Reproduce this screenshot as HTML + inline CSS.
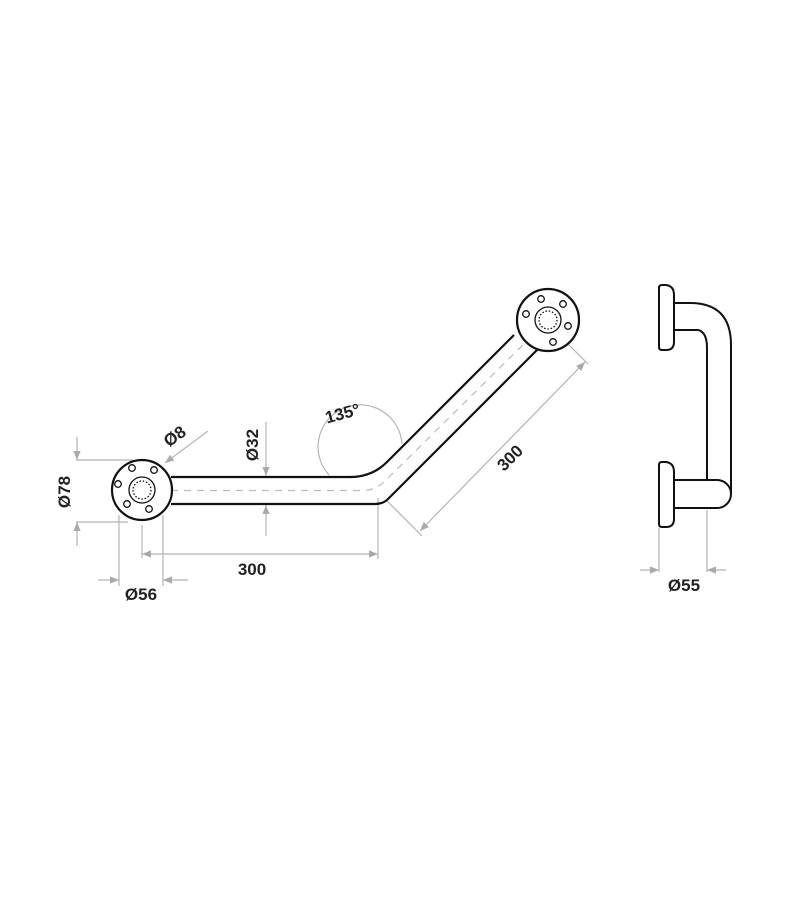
<!DOCTYPE html>
<html><head><meta charset="utf-8"><style>
html,body{margin:0;padding:0;background:#fff}
svg{display:block}
text{font-family:"Liberation Sans Narrow","Liberation Sans",sans-serif;font-weight:bold;font-size:17px;fill:#222}
</style></head><body>
<svg width="800" height="912" viewBox="0 0 800 912" xmlns="http://www.w3.org/2000/svg">
<defs>
<marker id="a" viewBox="0 0 10 10" refX="10" refY="5" markerWidth="9" markerHeight="9" orient="auto-start-reverse" markerUnits="userSpaceOnUse"><path d="M0,1 L10,5 L0,9 z" fill="#aaa"/></marker>
</defs>
<g stroke="#b4b4b4" stroke-width="1.2" fill="none">
<line x1="76" y1="460" x2="133" y2="460"/>
<line x1="76" y1="522" x2="128" y2="522"/>
<line x1="77" y1="437" x2="77" y2="460" marker-end="url(#a)"/>
<line x1="77" y1="546" x2="77" y2="522" marker-end="url(#a)"/>
<line x1="119" y1="515" x2="119" y2="586"/>
<line x1="163" y1="515" x2="163" y2="586"/>
<line x1="98" y1="580" x2="119" y2="580" marker-end="url(#a)"/>
<line x1="188" y1="580" x2="163" y2="580" marker-end="url(#a)"/>
<line x1="142" y1="525" x2="142" y2="558"/>
<line x1="378" y1="498" x2="378" y2="559"/>
<line x1="142" y1="554" x2="378" y2="554" marker-start="url(#a)" marker-end="url(#a)"/>
<line x1="266" y1="422" x2="266" y2="476" marker-end="url(#a)"/>
<line x1="266" y1="536" x2="266" y2="505" marker-end="url(#a)"/>
<line x1="208" y1="431" x2="165" y2="463" marker-end="url(#a)"/>
<path d="M329,475 A42,42 0 1,1 402,444"/>
<line x1="567" y1="343" x2="588" y2="364"/>
<line x1="386" y1="500" x2="422" y2="536"/>
<line x1="585" y1="362" x2="420" y2="531" marker-start="url(#a)" marker-end="url(#a)"/>
<line x1="659" y1="528" x2="659" y2="572"/>
<line x1="707" y1="510" x2="707" y2="572"/>
<line x1="640" y1="570" x2="659" y2="570" marker-end="url(#a)"/>
<line x1="726" y1="570" x2="707" y2="570" marker-end="url(#a)"/>
</g>
<path d="M171,490.5 L362,490.5 Q375,490.5 384,482 L530,338" stroke="#bbb" stroke-width="1.2" stroke-dasharray="7,6" fill="none"/>
<g stroke="#111" stroke-width="2.2" fill="none">
<path d="M171,477 L350,477 Q372,477 387,462 L514,335"/>
<path d="M171,504 L375,504 Q383,504 388,499 L540,347"/>
<circle cx="142" cy="490" r="30" fill="#fff"/>
<circle cx="548" cy="320" r="31" fill="#fff"/>
</g>
<g stroke="#111" stroke-width="1.3" fill="none">
<circle cx="142" cy="490" r="13"/>
<circle cx="142" cy="490" r="9" stroke-dasharray="1.5,1.8"/>
<circle cx="132" cy="468" r="3.3"/><circle cx="154" cy="470" r="3.3"/><circle cx="118" cy="484" r="3.3"/><circle cx="127" cy="504" r="3.3"/><circle cx="149" cy="509" r="3.3"/>
<circle cx="548" cy="320" r="13"/>
<circle cx="548" cy="320" r="9" stroke-dasharray="1.5,1.8"/>
<circle cx="541" cy="299" r="3.3"/><circle cx="563" cy="304" r="3.3"/><circle cx="526" cy="314" r="3.3"/><circle cx="568" cy="326" r="3.3"/><circle cx="553" cy="342" r="3.3"/>
</g>
<g stroke="#111" stroke-width="2" fill="#fff">
<path d="M674,303 L690,303 Q731,303 731,345 L731,494" fill="none"/>
<path d="M674,330 L698,330 Q707,332 707,348 L707,480" fill="none"/>
<path d="M674,480 L717,480 A14,14 0 0,1 717,508 L674,508" />
<path d="M659,288 Q659,285 662,285 L666,285 Q674,286 674,295 L674,342 Q674,350 666,350 L662,350 Q659,350 659,347 Z"/>
<path d="M659,465 Q659,462 662,462 L666,462 Q674,463 674,472 L674,519 Q674,527 666,527 L662,527 Q659,527 659,524 Z"/>
</g>
<text transform="translate(70,492) rotate(-90)" text-anchor="middle">Ø78</text>
<text x="141" y="600" text-anchor="middle">Ø56</text>
<text x="252" y="575" text-anchor="middle">300</text>
<text transform="translate(258,445) rotate(-90)" text-anchor="middle">Ø32</text>
<text transform="translate(178,441) rotate(-35)" text-anchor="middle">Ø8</text>
<text transform="translate(344,419) rotate(-15)" text-anchor="middle">135°</text>
<text transform="translate(514,462) rotate(-45)" text-anchor="middle">300</text>
<text x="684" y="591" text-anchor="middle">Ø55</text>
</svg>
</body></html>
